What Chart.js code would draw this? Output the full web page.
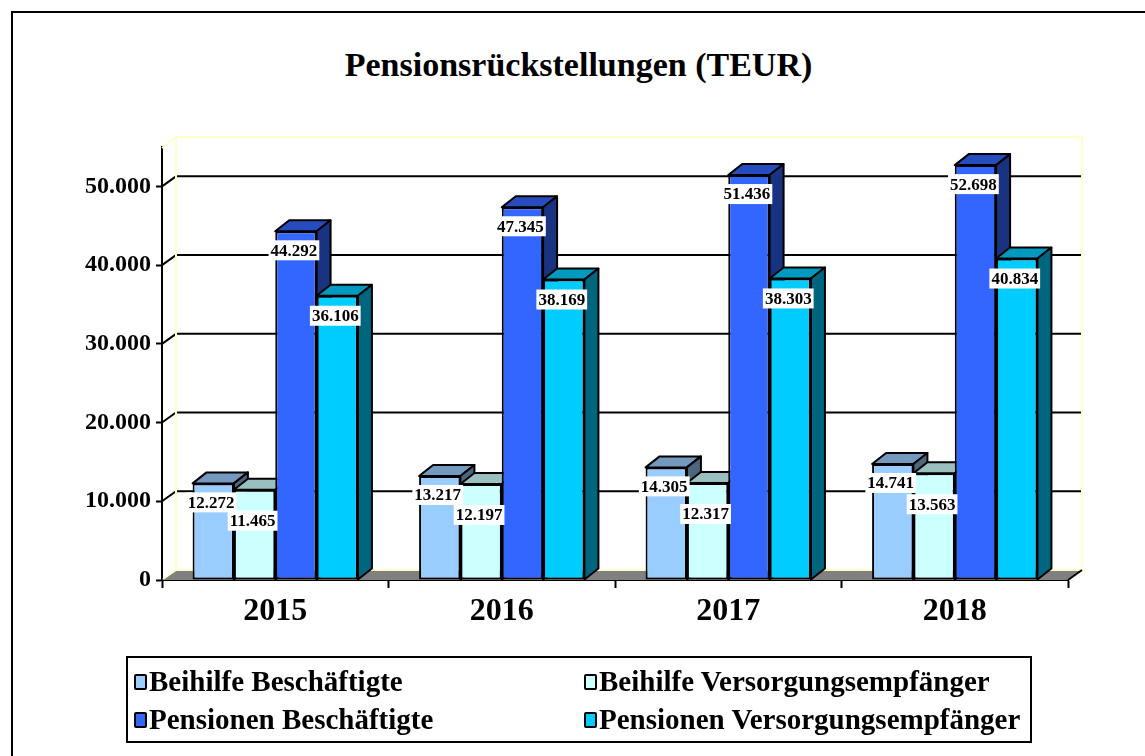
<!DOCTYPE html>
<html>
<head>
<meta charset="utf-8">
<script src="https://cdn.jsdelivr.net/npm/chart.js@4.4.0/dist/chart.umd.min.js"></script>
<style>
  body { margin: 0; background: #fff; }
  #wrap { position: relative; width: 1145px; height: 756px; overflow: hidden;
          font-family: "Liberation Serif", serif; font-weight: bold; color: #000; }
  #frame { position: absolute; left: 11px; top: 11px; width: 1300px; height: 900px;
           border-left: 2px solid #000; border-top: 2px solid #000; }
  #title { position: absolute; left: 12px; right: 0; top: 45px; text-align: center;
           font-size: 34px; line-height: 40px; }
  canvas { position: absolute; left: 0; top: 0; }
  #legendBox { position: absolute; left: 126px; top: 656px; width: 902px; height: 83px;
               border: 2px solid #000; }
  .mark { position: absolute; width: 9px; height: 12px; border: 2px solid #000; border-radius: 2px; }
  .txt { position: absolute; font-size: 29px; line-height: 30px; white-space: nowrap; }
</style>
</head>
<body>
<div id="wrap">
  <div id="frame"></div>
  <div id="title">Pensionsrückstellungen (TEUR)</div>
  <canvas id="chart" width="1145" height="756"></canvas>
  <div id="legendBox"></div>
</div>
<script>
// --- DATEN ---
const years = ["2015", "2016", "2017", "2018"];
const seriesNames = ["Beihilfe Beschäftigte", "Beihilfe Versorgungsempfänger",
                     "Pensionen Beschäftigte", "Pensionen Versorgungsempfänger"];
const beihilfeBeschaeftigte = [12272, 13217, 14305, 14741];
const beihilfeVersorgung    = [11465, 12197, 12317, 13563];
const pensionenBeschaeftigte = [44292, 47345, 51436, 52698];
const pensionenVersorgung    = [36106, 38169, 38303, 40834];
const yTicks = [0, 10000, 20000, 30000, 40000, 50000];
const yMax = 55000;

// --- FARBEN (Vorderseite / Deckel / Seite) ---
const frontColors = ["#99CCFF", "#CCFFFF", "#3366FF", "#00CCFF"];
const topColors   = ["#7399BF", "#99BFBF", "#264CBF", "#0099BF"];
const sideColors  = ["#4D6680", "#668080", "#1A3380", "#006680"];
const labelOffset = [19, 31, 19, 20];

const DX = 14, DY = -11;   // Balkentiefe
const WX = 14, WY = -10;   // Rueckwand-Versatz

const fmt = v => String(v).replace(/\B(?=(\d{3})+(?!\d))/g, ".");
const FONT = "Liberation Serif";

function poly(ctx, pts, fill) {
  ctx.beginPath();
  ctx.moveTo(pts[0][0], pts[0][1]);
  for (let k = 1; k < pts.length; k++) ctx.lineTo(pts[k][0], pts[k][1]);
  ctx.closePath();
  if (fill) { ctx.fillStyle = fill; ctx.fill(); }
  ctx.stroke();
}
function line(ctx, x1, y1, x2, y2) {
  ctx.beginPath(); ctx.moveTo(x1, y1); ctx.lineTo(x2, y2); ctx.stroke();
}

// --- 3D-PLUGIN: Wand, Boden, Balken von links nach rechts, Beschriftung ---
const depth3d = {
  id: "depth3d",
  beforeDatasetsDraw(chart) {
    const { ctx, chartArea: a, scales: { y } } = chart;
    ctx.save();
    // Boden
    ctx.fillStyle = "#808080";
    ctx.beginPath();
    ctx.moveTo(a.left, a.bottom); ctx.lineTo(a.right, a.bottom);
    ctx.lineTo(a.right + WX, a.bottom + WY); ctx.lineTo(a.left + WX, a.bottom + WY);
    ctx.closePath(); ctx.fill();
    // Gitternetz auf der Rueckwand
    ctx.strokeStyle = "#000"; ctx.lineWidth = 2;
    yTicks.forEach(v => {
      if (!v) return;
      const py = y.getPixelForValue(v);
      line(ctx, a.left, py, a.left + WX, py + WY);
      line(ctx, a.left + WX, py + WY, a.right + WX, py + WY);
    });
    // Wandrand
    ctx.strokeStyle = "#FFFFC8";
    ctx.beginPath();
    ctx.moveTo(a.left, a.top + 1);
    ctx.lineTo(a.left + WX, a.top + WY);
    ctx.lineTo(a.right + WX, a.top + WY);
    ctx.lineTo(a.right + WX, a.bottom + WY);
    ctx.lineTo(a.left + WX, a.bottom + WY);
    ctx.lineTo(a.left + 1, a.bottom - 1);
    ctx.moveTo(a.left + WX, a.top + WY);
    ctx.lineTo(a.left + WX, a.bottom + WY);
    ctx.stroke();
    ctx.strokeStyle = "#000";
    line(ctx, a.right, a.bottom, a.right + WX, a.bottom + WY);

    // Balken: jede Reihe erst Vorderseite, dann Deckel + Seite
    ctx.lineJoin = "round";
    chart.data.datasets.forEach((ds, i) => {
      chart.getDatasetMeta(i).data.forEach(bar => {
        bar.draw(ctx);
        const { x, y: top, base, width } = bar.getProps(["x", "y", "base", "width"], true);
        const l = x - width / 2, r = x + width / 2;
        ctx.strokeStyle = "#000"; ctx.lineWidth = 2;
        poly(ctx, [[l, top], [r, top], [r + DX, top + DY], [l + DX, top + DY]], topColors[i]);
        poly(ctx, [[r, top], [r + DX, top + DY], [r + DX, base + DY], [r, base]], sideColors[i]);
      });
    });

    // Datenbeschriftung
    ctx.font = "bold 17px '" + FONT + "'";
    ctx.textAlign = "center"; ctx.textBaseline = "middle";
    chart.data.datasets.forEach((ds, i) => {
      chart.getDatasetMeta(i).data.forEach((bar, j) => {
        const t = fmt(ds.data[j]);
        const w = ctx.measureText(t).width;
        const cx = bar.x - 2, cy = bar.y + labelOffset[i];
        ctx.fillStyle = "#fff";
        ctx.fillRect(cx - w / 2 - 2, cy - 10, w + 4, 20);
        ctx.fillStyle = "#000";
        ctx.fillText(t, cx, cy + 1);
      });
    });
    ctx.restore();
    return false; // Standard-Zeichnung der Balken auslassen
  }
};

const seriesData = [beihilfeBeschaeftigte, beihilfeVersorgung, pensionenBeschaeftigte, pensionenVersorgung];

const chart = new Chart(document.getElementById("chart"), {
  type: "bar",
  data: {
    labels: years,
    datasets: seriesData.map((d, i) => ({
      label: seriesNames[i],
      data: d,
      backgroundColor: frontColors[i],
      borderColor: "#000",
      borderWidth: 2,
      borderSkipped: false,
      inflateAmount: 0,
      categoryPercentage: 0.73,
      barPercentage: 1
    }))
  },
  options: {
    responsive: false,
    animation: false,
    events: [],
    layout: { padding: { top: 147, right: 77, bottom: 116, left: 0 } },
    plugins: { legend: { display: false }, tooltip: { enabled: false } },
    scales: {
      y: {
        min: 0, max: yMax,
        afterFit: s => { s.width = 162; },
        afterBuildTicks: s => { s.ticks = yTicks.map(v => ({ value: v })); },
        ticks: { callback: v => fmt(v), color: "#000", padding: 5,
                 font: { family: FONT, weight: "bold", size: 24 } },
        grid: { drawOnChartArea: false, tickLength: 6, tickWidth: 2, tickColor: "#000", color: "#000" },
        border: { display: true, color: "#000", width: 2 }
      },
      x: {
        afterFit: s => { s.height = 60; },
        ticks: { color: "#000", padding: 5, font: { family: FONT, weight: "bold", size: 32 } },
        grid: { drawOnChartArea: false, offset: true, tickLength: 8, tickWidth: 2, tickColor: "#000", color: "#000" },
        border: { display: true, color: "#000", width: 2 }
      }
    }
  },
  plugins: [depth3d]
});

// --- LEGENDE ---
const wrap = document.getElementById("wrap");
const legCols = [134, 584], legRows = [681.5, 720];
seriesNames.forEach((name, i) => {
  const x = legCols[i % 2], y = legRows[Math.floor(i / 2)];
  const m = document.createElement("div");
  m.className = "mark";
  m.style.left = x + "px"; m.style.top = (y - 8) + "px";
  m.style.background = frontColors[i];
  wrap.appendChild(m);
  const t = document.createElement("div");
  t.className = "txt";
  t.textContent = name;
  t.style.left = (x + 15) + "px"; t.style.top = (y - 16) + "px";
  wrap.appendChild(t);
});
</script>
</body>
</html>
